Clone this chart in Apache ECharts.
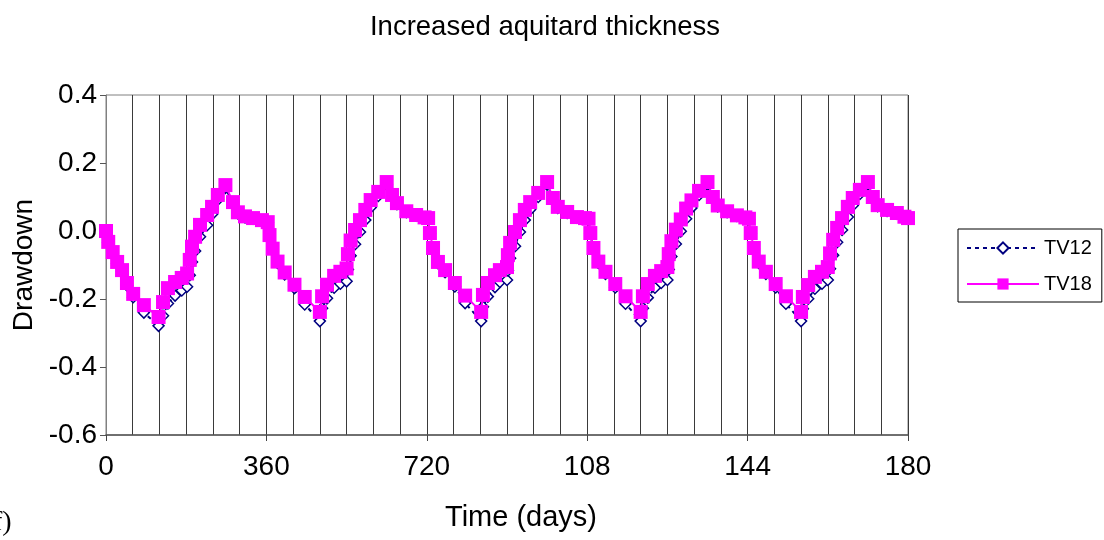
<!DOCTYPE html>
<html>
<head>
<meta charset="utf-8">
<script src="https://cdn.jsdelivr.net/npm/echarts@6/dist/echarts.min.js"></script>
<style>html,body{margin:0;padding:0;background:#fff;}#c{width:1104px;height:540px;}</style>
</head>
<body>
<div id="c"></div>
<script>
// Time (days)
const days = [
  0,5,15,25,36,47,61,85,118,128,139,155,170,182,188,193,200,211,227,238,251,268,285,296,312,330,350,
  363,367,374,385,401,423,446,480,485,496,512,526,540,543,549,559,570,582,594,611,630,642,653,674,696,715,
  723,727,734,745,761,783,806,842,846,857,873,884,900,902,907,918,929,940,952,970,990,1003,1014,1035,1057,1075,
  1083,1087,1094,1105,1121,1143,1166,1200,1205,1216,1232,1246,1260,1263,1269,1279,1290,1302,1314,1331,1350,1362,1373,1394,1416,1435,
  1443,1447,1454,1465,1481,1503,1526,1560,1564,1576,1591,1607,1620,1625,1632,1641,1652,1665,1676,1692,1710,1721,1732,1753,1775,1792,
  1800
];
// Drawdown TV18
const tv18 = [
  0.000,-0.032,-0.062,-0.091,-0.115,-0.153,-0.185,-0.218,-0.253,-0.209,-0.168,-0.150,-0.138,-0.125,-0.085,-0.046,-0.017,0.018,0.047,0.071,0.106,0.135,0.085,0.055,0.043,0.038,0.032,
  0.026,-0.012,-0.052,-0.090,-0.122,-0.158,-0.194,-0.238,-0.192,-0.158,-0.132,-0.120,-0.110,-0.068,-0.028,0.003,0.032,0.062,0.091,0.115,0.144,0.106,0.082,0.058,0.047,0.040,
  0.038,-0.006,-0.050,-0.091,-0.115,-0.153,-0.190,-0.238,-0.188,-0.153,-0.130,-0.115,-0.106,-0.071,-0.035,-0.003,0.032,0.062,0.085,0.112,0.144,0.097,0.071,0.056,0.041,0.038,
  0.036,-0.006,-0.050,-0.090,-0.120,-0.156,-0.192,-0.238,-0.192,-0.156,-0.132,-0.118,-0.106,-0.068,-0.030,0.004,0.034,0.066,0.090,0.118,0.144,0.100,0.075,0.058,0.046,0.040,
  0.036,-0.006,-0.050,-0.090,-0.120,-0.156,-0.192,-0.238,-0.194,-0.159,-0.135,-0.120,-0.106,-0.066,-0.026,0.009,0.038,0.071,0.097,0.121,0.144,0.100,0.076,0.062,0.053,0.042,
  0.038
];
// Drawdown TV12
const tv12 = [
  0.000,-0.034,-0.065,-0.095,-0.120,-0.160,-0.195,-0.240,-0.279,-0.249,-0.213,-0.190,-0.175,-0.164,-0.130,-0.091,-0.059,-0.017,0.017,0.049,0.092,0.127,0.081,0.052,0.040,0.036,0.030,
  0.024,-0.014,-0.055,-0.094,-0.128,-0.168,-0.216,-0.265,-0.227,-0.198,-0.167,-0.155,-0.148,-0.113,-0.073,-0.039,-0.003,0.032,0.069,0.103,0.136,0.102,0.079,0.055,0.045,0.038,
  0.036,-0.008,-0.053,-0.095,-0.121,-0.163,-0.212,-0.265,-0.223,-0.193,-0.165,-0.150,-0.144,-0.116,-0.080,-0.045,-0.003,0.032,0.063,0.100,0.136,0.093,0.068,0.053,0.039,0.036,
  0.034,-0.008,-0.053,-0.094,-0.126,-0.166,-0.214,-0.265,-0.227,-0.196,-0.167,-0.153,-0.144,-0.113,-0.075,-0.038,-0.001,0.036,0.068,0.106,0.136,0.096,0.072,0.055,0.044,0.038,
  0.034,-0.008,-0.053,-0.094,-0.126,-0.166,-0.214,-0.265,-0.229,-0.199,-0.170,-0.155,-0.144,-0.111,-0.071,-0.033,0.003,0.041,0.075,0.109,0.136,0.096,0.073,0.059,0.051,0.040,
  0.036
];
// Tick labels as printed on the original (truncated)
const xTickLabels = ['0','360','720','108','144','180'];
const seriesNames = ['TV12','TV18'];

const FONT = 'Liberation Sans, Arial, Helvetica, sans-serif';
const chart = echarts.init(document.getElementById('c'), null, {renderer:'canvas'});
chart.setOption({
  animation: false,
  backgroundColor: '#fff',
  title: {
    text: 'Increased aquitard thickness',
    left: 540, top: 8, textAlign: 'center',
    textStyle: {fontFamily: FONT, fontWeight: 'normal', fontSize: 27.5, color: '#000'}
  },
  legend: {
    orient: 'vertical', left: 958, top: 229,
    data: seriesNames,
    itemWidth: 72, itemHeight: 14, itemGap: 14,
    padding: [8, 10, 7, 8],
    borderColor: '#000', borderWidth: 1, backgroundColor: '#fff',
    textStyle: {fontFamily: FONT, fontSize: 20, color: '#000', lineHeight: 22}
  },
  grid: {left: 106, right: 196, top: 95, bottom: 105, show: true, borderColor: '#808080', borderWidth: 1},
  xAxis: {
    type: 'value', min: 0, max: 1800, interval: 360,
    name: 'Time (days)', nameLocation: 'middle', nameGap: 68,
    nameTextStyle: {fontFamily: FONT, fontSize: 29, color: '#000', padding: [0, 0, 0, 28]},
    axisLine: {show: true, onZero: false, lineStyle: {color: '#555', width: 1.5}},
    axisTick: {show: true, length: 6, inside: false, lineStyle: {color: '#444'}},
    axisLabel: {
      fontFamily: FONT, fontSize: 28, color: '#000', margin: 18,
      formatter: v => xTickLabels[Math.round(v / 360)]
    },
    splitLine: {show: true, lineStyle: {color: '#3a3a3a', width: 1}},
    minorTick: {show: false, splitNumber: 6},
    minorSplitLine: {show: true, lineStyle: {color: '#3a3a3a', width: 1}}
  },
  yAxis: {
    type: 'value', min: -0.6, max: 0.4, interval: 0.2,
    name: 'Drawdown', nameLocation: 'middle', nameGap: 68, nameRotate: 90,
    nameTextStyle: {fontFamily: FONT, fontSize: 28, color: '#000'},
    axisLine: {show: true, onZero: false, lineStyle: {color: '#808080', width: 1}},
    axisTick: {show: true, length: 6, inside: false, lineStyle: {color: '#555'}},
    axisLabel: {fontFamily: FONT, fontSize: 28, color: '#000', margin: 9, formatter: v => v.toFixed(1)},
    splitLine: {show: false}
  },
  graphic: [{
    type: 'text', left: -7, top: 509,
    style: {text: 'f)', font: '28px "Liberation Serif", "DejaVu Serif", serif', fill: '#000'}
  }],
  series: [
    {
      name: seriesNames[0], type: 'line',
      data: days.map((d, i) => [d, tv12[i]]),
      symbol: 'diamond', symbolSize: 11, showAllSymbol: true,
      lineStyle: {color: '#000080', width: 2, type: [4, 4]},
      itemStyle: {color: '#fff', borderColor: '#000080', borderWidth: 1.5},
      z: 2
    },
    {
      name: seriesNames[1], type: 'line',
      data: days.map((d, i) => [d, tv18[i]]),
      symbol: 'rect', symbolSize: 14, showAllSymbol: true,
      lineStyle: {color: '#ff00ff', width: 2, type: 'solid'},
      itemStyle: {color: '#ff00ff', borderColor: '#ff00ff', borderWidth: 0},
      z: 3
    }
  ]
});
</script>
</body>
</html>
